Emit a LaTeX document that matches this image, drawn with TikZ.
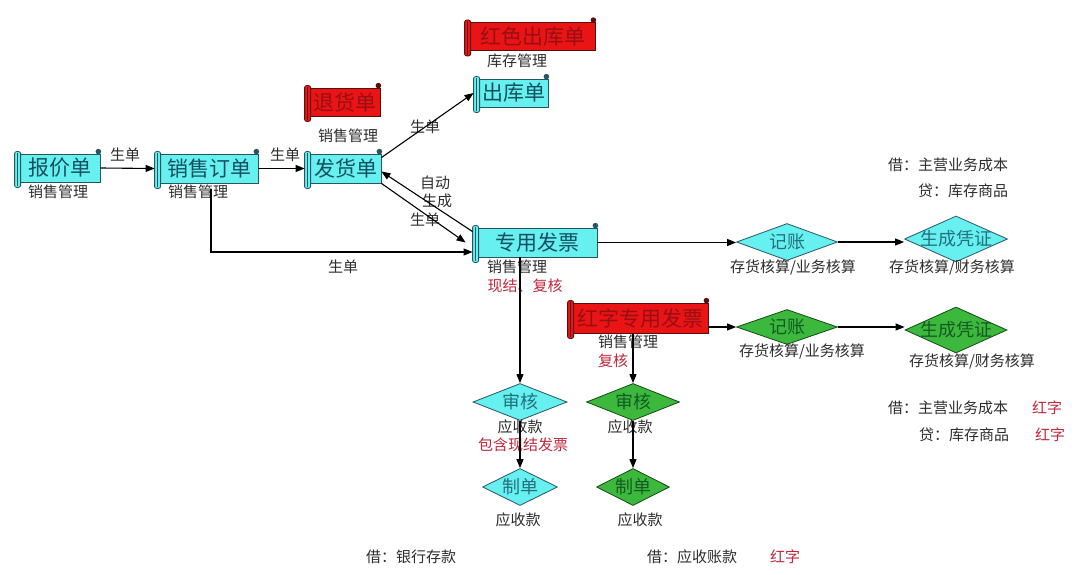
\documentclass[tikz,border=0pt]{standalone}
\usepackage{fontspec}
\setmainfont{Noto Sans CJK SC}
\usetikzlibrary{shapes.geometric,arrows.meta}
\definecolor{cyfill}{RGB}{102,240,240}
\definecolor{cyline}{RGB}{40,85,100}
\definecolor{cytext}{RGB}{20,80,95}
\definecolor{rdfill}{RGB}{235,20,20}
\definecolor{rdline}{RGB}{90,15,15}
\definecolor{rdtext}{RGB}{150,15,20}
\definecolor{grfill}{RGB}{60,185,60}
\definecolor{grline}{RGB}{20,75,20}
\definecolor{grtext}{RGB}{20,90,35}
\definecolor{lblc}{RGB}{45,45,45}
\definecolor{redlbl}{RGB}{190,40,60}
\newcommand{\scrolldeco}[3]{%
  \draw[draw=#3, fill=#2, line width=0.8pt, rounded corners=2pt]
    ([xshift=-5pt,yshift=2pt]#1.north west) rectangle ([xshift=1pt,yshift=-5pt]#1.south west);
  \draw[draw=#3, line width=0.6pt]
    ([xshift=-2pt,yshift=1pt]#1.north west) -- ([xshift=-2pt,yshift=-4pt]#1.south west);
  \fill[#3] ([xshift=-2pt,yshift=2pt]#1.north east) circle (2.8pt);
}
\tikzset{
  scrollbase/.style={rectangle, line width=0.8pt, inner sep=0pt, font=\fontsize{21}{24}\selectfont},
  scrollc/.style={scrollbase, draw=cyline, fill=cyfill, text=cytext},
  scrollr/.style={scrollbase, draw=rdline, fill=rdfill, text=rdtext},
  diabase/.style={diamond, line width=0.8pt, inner sep=0pt},
  diac/.style={diabase, draw=cyline, fill=cyfill},
  diag/.style={diabase, draw=grline, fill=grfill},
  diactext/.style={font=\fontsize{18}{20}\selectfont, text=cytext!80!cyfill, inner sep=0pt},
  diagtext/.style={font=\fontsize{18}{20}\selectfont, text=grtext, inner sep=0pt},
  lbl/.style={font=\fontsize{15}{18}\selectfont, text=lblc, inner sep=0pt},
  rlbl/.style={lbl, text=redlbl},
  arr/.style={-{Triangle[length=9pt,width=7pt]}, line width=1.1pt, draw=black},
}
\begin{document}
\begin{tikzpicture}[x=1pt,y=-1pt]
\useasboundingbox (0,0) rectangle (1080,575);
\fill[white] (0,0) rectangle (1080,575);

% scrolls
\node[scrollc, minimum width=80pt, minimum height=28pt] (bj) at (60,168) {报价单};
\node[scrollc, minimum width=98pt, minimum height=29pt] (xsd) at (209,168.5) {销售订单};
\node[scrollc, minimum width=71pt, minimum height=29pt] (fh) at (345.5,168.5) {发货单};
\node[scrollr, minimum width=70pt, minimum height=28pt] (thd) at (345,102) {退货单};
\node[scrollr, minimum width=125pt, minimum height=28pt] (hsck) at (532.5,36.5) {红色出库单};
\node[scrollc, minimum width=69pt, minimum height=28pt] (ck) at (513.5,93) {出库单};
\node[scrollc, minimum width=119pt, minimum height=29pt] (fp) at (537.5,242.5) {专用发票};
\node[scrollr, minimum width=135pt, minimum height=30pt] (hz) at (640.5,318) {红字专用发票};
\scrolldeco{bj}{cyfill}{cyline}
\scrolldeco{xsd}{cyfill}{cyline}
\scrolldeco{fh}{cyfill}{cyline}
\scrolldeco{thd}{rdfill}{rdline}
\scrolldeco{hsck}{rdfill}{rdline}
\scrolldeco{ck}{cyfill}{cyline}
\scrolldeco{fp}{cyfill}{cyline}
\scrolldeco{hz}{rdfill}{rdline}

% diamonds
\node[diac, minimum width=101pt, minimum height=37pt, label={[diactext]center:记账}] (jz1) at (787,242) {};
\node[diac, minimum width=103pt, minimum height=46pt, label={[diactext]center:生成凭证}] (pz1) at (956,239) {};
\node[diag, minimum width=101pt, minimum height=35pt, label={[diagtext]center:记账}] (jz2) at (787,327) {};
\node[diag, minimum width=102pt, minimum height=46pt, label={[diagtext]center:生成凭证}] (pz2) at (956,330) {};
\node[diac, minimum width=94pt, minimum height=37pt, label={[diactext]center:审核}] (sh1) at (520,402) {};
\node[diac, minimum width=75pt, minimum height=37pt, label={[diactext]center:制单}] (zd1) at (520,487) {};
\node[diag, minimum width=93pt, minimum height=37pt, label={[diagtext]center:审核}] (sh2) at (633,402) {};
\node[diag, minimum width=73pt, minimum height=37pt, label={[diagtext]center:制单}] (zd2) at (633,487) {};

% labels
\node[lbl] (l1) at (58,192) {销售管理};
\node[lbl] (l2) at (198,192) {销售管理};
\node[lbl] (l3) at (348,136) {销售管理};
\node[lbl] (l4) at (517,61) {库存管理};
\node[lbl] (l5) at (517,267) {销售管理};
\node[rlbl] (l6) at (525,286) {现结、复核};
\node[lbl] (l7) at (628,342) {销售管理};
\node[rlbl] (l8) at (613,361) {复核};
\node[lbl] (g1) at (125,155) {生单};
\node[lbl] (g2) at (285,155) {生单};
\node[lbl] (g3) at (343,267) {生单};
\node[lbl] (g4) at (425,127) {生单};
\node[lbl] (g5) at (435,183) {自动};
\node[lbl] (g6) at (437,201) {生成};
\node[lbl] (g7) at (425,220) {生单};
\node[lbl] (h1) at (793,268) {存货核算/业务核算};
\node[lbl] (h2) at (952,268) {存货核算/财务核算};
\node[lbl] (h3) at (802,352) {存货核算/业务核算};
\node[lbl] (h4) at (972,362) {存货核算/财务核算};
\node[lbl, anchor=west] (j1) at (888,165) {借：主营业务成本};
\node[lbl, anchor=west] (j2) at (918,191) {贷：库存商品};
\node[lbl, anchor=west] (j3) at (888,408) {借：主营业务成本};
\node[rlbl] (j3r) at (1047,408) {红字};
\node[lbl, anchor=west] (j4) at (919,435) {贷：库存商品};
\node[rlbl] (j4r) at (1050,435) {红字};
\node[lbl] (y1) at (520,427) {应收款};
\node[rlbl] (y2) at (523,445) {包含现结发票};
\node[lbl] (y3) at (630,427) {应收款};
\node[lbl] (y4) at (518,520) {应收款};
\node[lbl] (y5) at (640,520) {应收款};
\node[lbl] (b1) at (411,557) {借：银行存款};
\node[lbl] (b2) at (692,557) {借：应收账款};
\node[rlbl] (b3) at (785,557) {红字};

% connectors
\coordinate (k1) at (211,252);
\draw[arr] (bj.east) -- ([xshift=-5pt]xsd.west);
\draw[arr] (xsd.east) -- ([xshift=-5pt]fh.west);
\draw[arr] ([yshift=-6pt]xsd.south -| k1) |- ([xshift=-5pt]fp.west |- k1);
\draw[arr] ([yshift=-4pt]fh.north east) -- ([xshift=-5pt]ck.west);
\draw[arr] ([xshift=-5pt,yshift=-4pt]fp.north west) -- ([yshift=-3pt]fh.east);
\draw[arr] (fh.south east) -- ([xshift=-12pt]fp.west);
\draw[arr] (fp.east) -- (fp.east -| jz1.west);
\draw[arr] (jz1.east) -- (jz1.east -| pz1.west);
\draw[arr] (fp.south -| sh1.north) -- (sh1.north);
\draw[arr] (sh1.south) -- (zd1.north);
\draw[arr] (hz.east |- jz2.west) -- (jz2.west);
\draw[arr] (jz2.east) -- (jz2.east -| pz2.west);
\draw[arr] (hz.south -| sh2.north) -- (sh2.north);
\draw[arr] (sh2.south) -- (zd2.north);
\end{tikzpicture}
\end{document}
